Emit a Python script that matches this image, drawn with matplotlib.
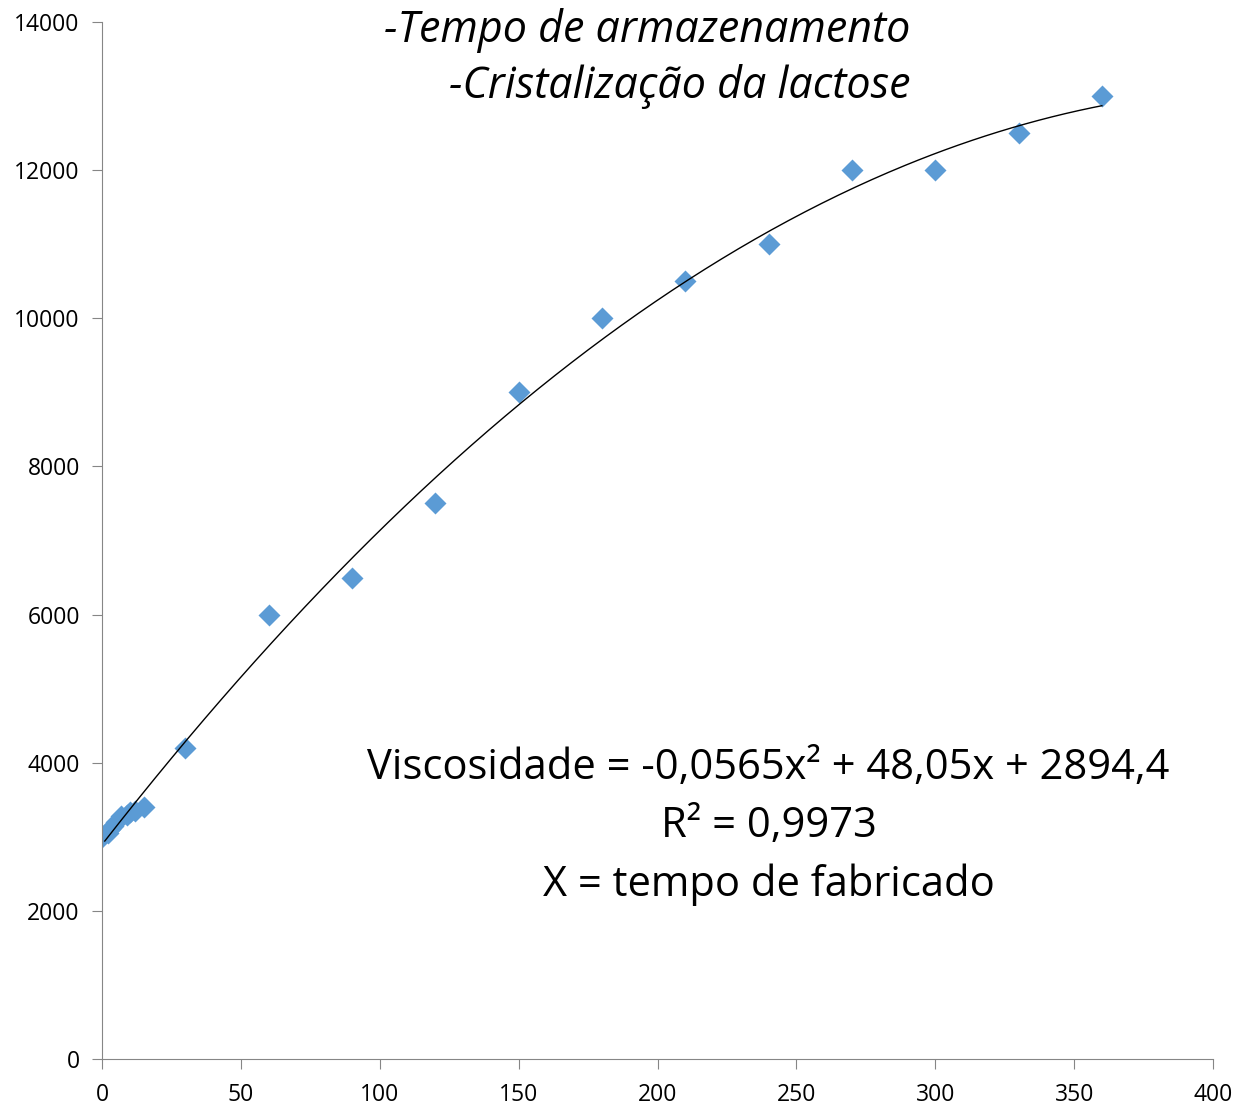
import numpy as np
import matplotlib.pyplot as plt

plt.rcParams['font.family'] = ['Open Sans', 'DejaVu Sans']

# dias de armazenamento x viscosidade
dias = [0, 2, 3, 4, 5, 7, 9, 10, 12, 15, 30, 60, 90, 120, 150, 180, 210, 240, 270, 300, 330, 360]
visc = [3000, 3050, 3100, 3150, 3200, 3280, 3300, 3330, 3350, 3400, 4200, 6000, 6500, 7500,
        9000, 10000, 10500, 11000, 12000, 12000, 12500, 13000]

# ajuste polinomial de 2a ordem
coef = [-0.0565, 48.05, 2894.4]

fig = plt.figure(figsize=(12.38, 11.06), dpi=100)
ax = fig.add_axes([102 / 1238, 1 - 1059 / 1106, (1213 - 102) / 1238, (1059 - 22) / 1106])

xs = np.linspace(1, 360, 300)
ax.plot(xs, np.polyval(coef, xs), color='black', lw=1, zorder=3)
ax.plot(dias, visc, 'D', color='#5B9BD5', ms=11, mec='none', zorder=2)

ax.set_xlim(0, 400)
ax.set_ylim(0, 14000)
ax.set_xticks(range(0, 401, 50))
ax.set_yticks(range(0, 14001, 2000))
for s in ['top', 'right']:
    ax.spines[s].set_visible(False)
for s in ['left', 'bottom']:
    ax.spines[s].set_color('#868686')
ax.tick_params(colors='#868686', labelcolor='black', labelsize=16.5, length=7)
ax.tick_params(axis='x', pad=10)
ax.tick_params(axis='y', pad=9)

ax.text(291, 13890, '-Tempo de armazenamento', fontsize=31, style='italic', ha='right', va='center')
ax.text(291, 13135, '-Cristalização da lactose', fontsize=31, style='italic', ha='right', va='center')

ax.text(240, 3930, 'Viscosidade = -0,0565x² + 48,05x + 2894,4', fontsize=30, ha='center', va='center')
ax.text(240, 3146, 'R² = 0,9973', fontsize=30, ha='center', va='center')
ax.text(240, 2350, 'X = tempo de fabricado', fontsize=30, ha='center', va='center')

fig.savefig('out.png', dpi=100)
